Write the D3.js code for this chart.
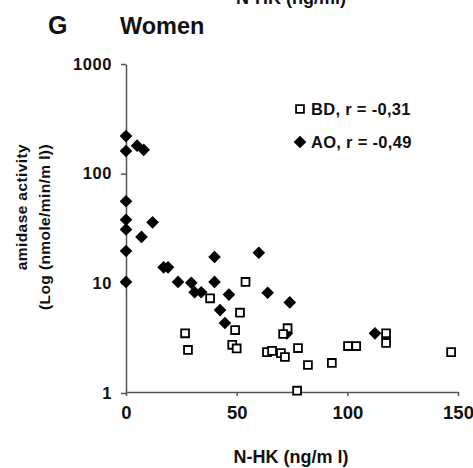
<!DOCTYPE html>
<html><head><meta charset="utf-8">
<script src="https://cdn.jsdelivr.net/npm/d3@7"></script>
<style>
html,body{margin:0;padding:0;background:#fff;}
svg text{font-family:"Liberation Sans",Arial,sans-serif;font-weight:bold;fill:#111;}
</style></head>
<body>
<svg id="c" width="473" height="468"></svg>
<script>
// ---- data ----
const aoX = [0,0,5,8,0,0,0,12,7,0,0,17,19,40,60,23.5,29.5,40,31,34,46.5,64,74,42.5,44.7,72.7,112.5];
const aoY = [220,161,180,165,56,38,31,36,26.5,19.7,10.3,14,14,17.4,19,10.3,10.1,10.3,8.3,8.3,7.9,8.2,6.7,5.7,4.35,3.5,3.5];
const bdX = [54,38,51.5,26.7,28,49.3,48,50,63.7,66,70,71.8,73,71,77.7,82.2,93,100.3,104,117.5,117.5,146.9,77.3];
const bdY = [10.3,7.3,5.4,3.5,2.47,3.75,2.75,2.55,2.36,2.42,2.31,2.13,3.9,3.45,2.57,1.8,1.88,2.68,2.68,3.5,2.86,2.36,1.05];
const xTicks = [0,50,100,150];
const yTicks = [1,10,100,1000];
const legendLabels = ["BD, r = -0,31","AO, r = -0,49"];

const svg = d3.select("#c");
const x = d3.scaleLinear().domain([0,150]).range([126,458]);
const y = d3.scaleLog().domain([1,1000]).range([393,64]);
const axisColor = "#555";

// y axis
const ya = svg.append("g").attr("transform","translate(126,0)")
  .call(d3.axisLeft(y).tickValues(yTicks).tickFormat(d3.format("d")).tickSize(5).tickSizeOuter(0).tickPadding(9));
ya.selectAll("path,line").attr("stroke",axisColor).attr("stroke-width",1.5);
ya.selectAll("text").attr("font-size",16.5).attr("letter-spacing",0.6).attr("fill","#111");
// x axis
const xa = svg.append("g").attr("transform","translate(0,392)")
  .call(d3.axisBottom(x).tickValues(xTicks).tickFormat(d3.format("d")).tickSize(4).tickSizeOuter(0).tickPadding(10));
xa.selectAll("path,line").attr("stroke",axisColor).attr("stroke-width",1.5);
xa.selectAll("text").attr("font-size",18.5).attr("fill","#111");

// points
const diamond = d3.symbol().type(d3.symbolSquare).size(80);
svg.append("g").selectAll("path").data(aoX.map((v,i)=>[v,aoY[i]])).join("path")
  .attr("d",diamond).attr("fill","#000")
  .attr("transform",d=>`translate(${x(d[0])},${y(d[1])}) rotate(45)`);
const sq = d3.symbol().type(d3.symbolSquare).size(62);
svg.append("g").selectAll("path").data(bdX.map((v,i)=>[v,bdY[i]])).join("path")
  .attr("d",sq).attr("fill","#fff").attr("stroke","#000").attr("stroke-width",1.8)
  .attr("transform",d=>`translate(${x(d[0])},${y(d[1])})`);

// legend
const lg = svg.append("g");
lg.append("path").attr("d",sq).attr("fill","#fff").attr("stroke","#000").attr("stroke-width",1.8)
  .attr("transform","translate(300,109)");
lg.append("path").attr("d",diamond).attr("fill","#000").attr("transform","translate(300,142) rotate(45)");
lg.append("text").attr("x",311).attr("y",115).attr("font-size",16.5).attr("letter-spacing",0.3).text(legendLabels[0]);
lg.append("text").attr("x",311).attr("y",148).attr("font-size",16.5).attr("letter-spacing",0.3).text(legendLabels[1]);

// titles
svg.append("text").attr("x",48).attr("y",34).attr("font-size",25).text("G");
svg.append("text").attr("x",120).attr("y",34).attr("font-size",23.5).text("Women");
svg.append("text").attr("x",291).attr("y",4).attr("text-anchor","middle").attr("font-size",18).text("N-HK (ng/ml)");
svg.append("text").attr("x",291).attr("y",463).attr("text-anchor","middle").attr("font-size",18).text("N-HK (ng/m l)");
svg.append("text").attr("transform","translate(27,144) rotate(-90)").attr("text-anchor","end").attr("font-size",15.5).attr("letter-spacing",0.4).text("amidase activity");
svg.append("text").attr("transform","translate(50,144) rotate(-90)").attr("text-anchor","end").attr("font-size",15.5).attr("letter-spacing",0.4).text("(Log (nmole/min/m l))");
</script>
</body></html>
